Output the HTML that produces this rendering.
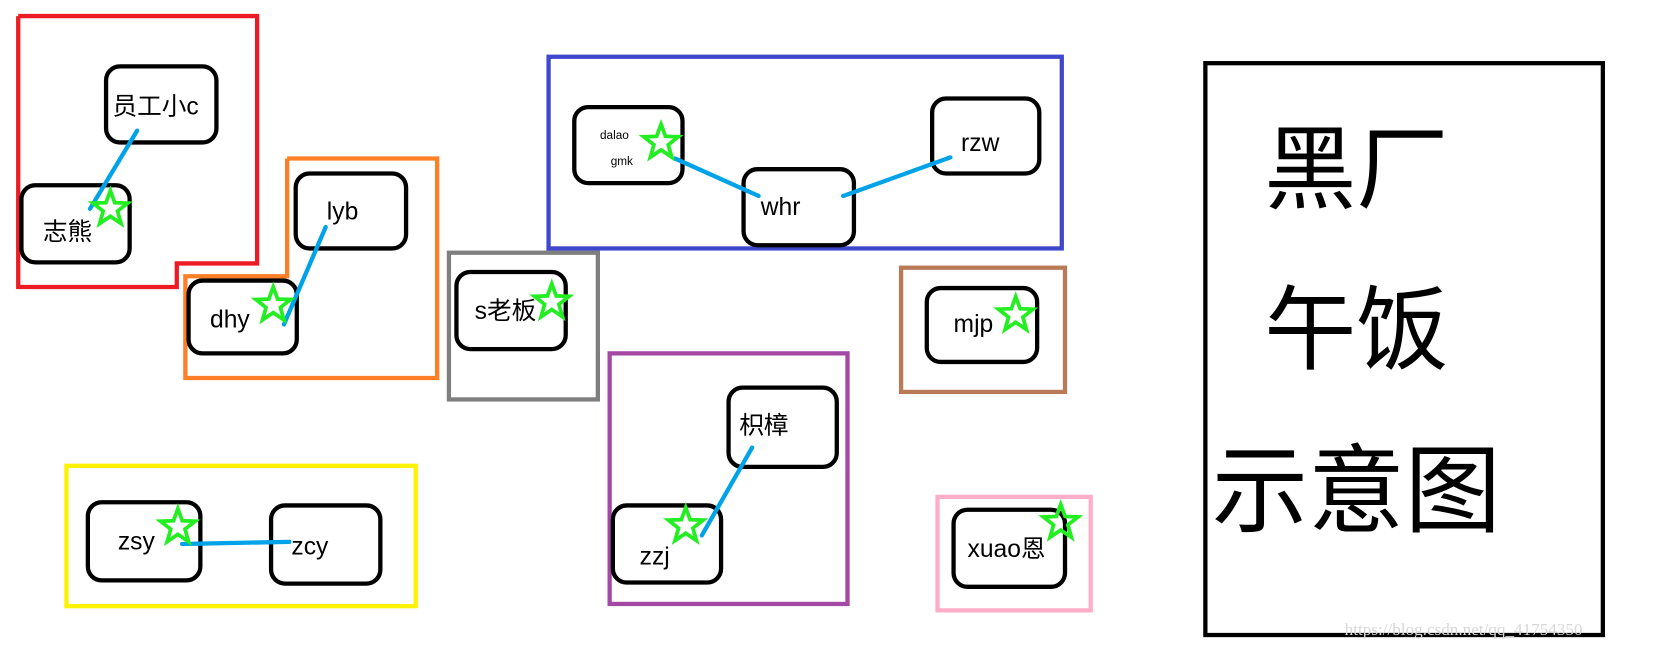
<!DOCTYPE html>
<html><head><meta charset="utf-8"><style>html,body{margin:0;padding:0;background:#fff;}svg{display:block}</style></head>
<body>
<svg width="1680" height="650" viewBox="0 0 1568 607" preserveAspectRatio="none" xmlns="http://www.w3.org/2000/svg" font-family="'Liberation Sans','Noto Sans CJK SC',sans-serif">
<defs>
<polygon id="st" points="0,-17 4.1,-5.7 16.2,-5.3 6.7,2.2 10,13.8 0,7 -10,13.8 -6.7,2.2 -16.2,-5.3 -4.1,-5.7" fill="none" stroke="#22ee22" stroke-width="3.5" stroke-linejoin="miter"/>
</defs>
<rect width="1568" height="607" fill="#fff"/>
<g fill="none" stroke-width="4">
<polyline points="17,15 240,15 240,246 165,246 165,268 17,268 17,15" stroke="#ed1c24"/>
<polyline points="268,148 408,148 408,353 173,353 173,258 268,258 268,148" stroke="#ff7f27"/>
<rect x="419" y="236" width="139" height="137" stroke="#7f7f7f"/>
<rect x="62" y="435" width="326" height="131" stroke="#fff200"/>
<rect x="512" y="53" width="479" height="179" stroke="#3f48cc"/>
<rect x="841" y="250" width="153" height="116" stroke="#b97a57"/>
<rect x="569" y="330" width="222" height="234" stroke="#a349a4"/>
<rect x="875" y="464" width="143" height="106" stroke="#ffaec9"/>
<rect x="1125" y="59" width="371" height="534" stroke="#000"/>
</g>
<g fill="#fff" stroke="#000" stroke-width="4">
<rect x="99" y="62" width="103" height="71" rx="13"/>
<rect x="20" y="173" width="101" height="72" rx="13"/>
<rect x="276" y="162" width="103" height="70" rx="13"/>
<rect x="176" y="262" width="101" height="68" rx="13"/>
<rect x="426" y="254" width="102" height="72" rx="13"/>
<rect x="82" y="469" width="105" height="73" rx="13"/>
<rect x="253" y="472" width="102" height="73" rx="13"/>
<rect x="536" y="100" width="101" height="71" rx="13"/>
<rect x="694" y="158" width="103" height="71" rx="13"/>
<rect x="870" y="92" width="100" height="70" rx="13"/>
<rect x="865" y="269" width="103" height="69" rx="13"/>
<rect x="680" y="362" width="101" height="74" rx="13"/>
<rect x="572" y="472" width="101" height="72" rx="13"/>
<rect x="890" y="476" width="104" height="72" rx="13"/>
</g>
<g stroke="#00a2e8" stroke-width="4" stroke-linecap="round">
<line x1="128" y1="122" x2="84" y2="195"/>
<line x1="304" y1="212" x2="265" y2="303"/>
<line x1="170" y1="508" x2="270" y2="506"/>
<line x1="630" y1="148" x2="708" y2="183"/>
<line x1="787" y1="183" x2="887" y2="147"/>
<line x1="702" y1="418" x2="655" y2="500"/>
</g>
<g font-size="23" fill="#000">
<text x="105" y="107">员工小c</text>
<text x="40" y="224">志熊</text>
<text x="305" y="205">lyb</text>
<text x="196" y="306">dhy</text>
<text x="443" y="298">s老板</text>
<text x="110" y="513">zsy</text>
<text x="272" y="518">zcy</text>
<text x="710" y="201">whr</text>
<text x="897" y="141">rzw</text>
<text x="890" y="310">mjp</text>
<text x="690" y="405">枳樟</text>
<text x="597" y="527">zzj</text>
<text x="903" y="520">xuao恩</text>
<text x="560" y="130" font-size="11">dalao</text>
<text x="570" y="154" font-size="11">gmk</text>
</g>
<g fill="#22ee22">
<use href="#st" x="103" y="195"/>
<use href="#st" x="255" y="285"/>
<use href="#st" x="515" y="282"/>
<use href="#st" x="166" y="492"/>
<use href="#st" x="617" y="133"/>
<use href="#st" x="948" y="294"/>
<use href="#st" x="640" y="491"/>
<use href="#st" x="990" y="488"/>
</g>
<g font-size="86" fill="#000">
<text x="1180" y="188">黑厂</text>
<text x="1180" y="338">午饭</text>
<text x="1131" y="490" font-size="90">示意图</text>
</g>
<text x="1255" y="593" font-size="16" fill="#d8d8d8" font-family="'Liberation Serif',serif">https://blog.csdn.net/qq_41754350</text>
</svg>
</body></html>
